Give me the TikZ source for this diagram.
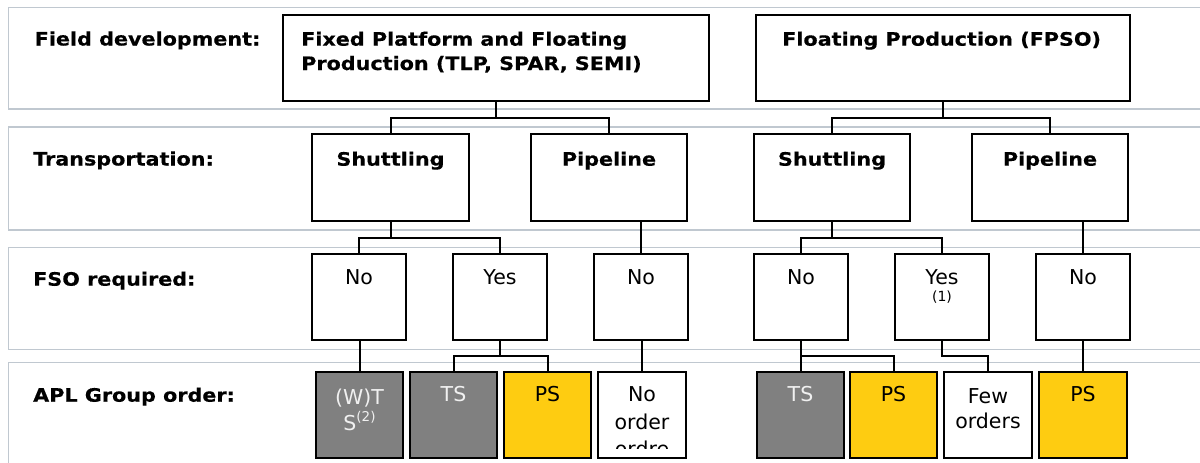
\documentclass[tikz,border=0pt]{standalone}
\usepackage{fontspec}
\setmainfont{DejaVu Sans}
\newfontfamily\labfont[FakeStretch=1.12,BoldFeatures={FakeBold=0.5}]{DejaVu Sans}
\definecolor{bandgray}{RGB}{192,200,208}
\definecolor{boxgray}{RGB}{128,128,128}
\definecolor{apyellow}{RGB}{254,204,17}
\definecolor{txtwhite}{RGB}{240,240,240}
\begin{document}
\begin{tikzpicture}[x=1pt,y=-1pt,
  band/.style={draw=bandgray,line width=1.5pt},
  box/.style={draw=black,line width=2pt,inner sep=0pt,outer sep=0pt,rectangle,anchor=north west},
  conn/.style={draw=black,line width=2pt},
  lab/.style={font=\labfont\bfseries\fontsize{18.5}{22}\selectfont,inner sep=0pt,anchor=base west},
  btxt/.style={font=\labfont\bfseries\fontsize{18.5}{22}\selectfont,inner sep=0pt,anchor=base},
  ntxt/.style={font=\fontsize{20.5}{24}\selectfont,inner sep=0pt,anchor=base},
  gbox/.style={box,fill=boxgray},
  ybox/.style={box,fill=apyellow},
  wbox/.style={box,fill=white},
]
\useasboundingbox (0,0) rectangle (1200,463);
\fill[white] (0,0) rectangle (1200,463);
% bands
\draw[band] (8.5,7.5) rectangle (1215,109);
\draw[band] (8.5,127) rectangle (1215,230);
\draw[band] (8.5,247.3) rectangle (1215,349.5);
\draw[band] (8.5,362.7) rectangle (1215,480);
% row labels
\node[lab] (l1) at (34.5,45.5) {Field development:};
\node[lab] (l2) at (33,165.5) {Transportation:};
\node[lab] (l3) at (33,285.7) {FSO required:};
\node[lab] (l4) at (33,401.7) {APL Group order:};
% row 1
\node[box,minimum width=426pt,minimum height=86pt] (A) at (283,15) {};
\node[box,minimum width=374pt,minimum height=86pt] (B) at (756,15) {};
\node[lab] (At1) at (301,45.7) {Fixed Platform and Floating};
\node[lab] (At2) at (301,70) {Production (TLP, SPAR, SEMI)};
\node[lab] (Bt1) at (782,45.7) {Floating Production (FPSO)};
% row 2
\node[box,minimum width=157pt,minimum height=87pt] (S1) at (312,134) {};
\node[box,minimum width=156pt,minimum height=87pt] (P1) at (531,134) {};
\node[box,minimum width=156pt,minimum height=87pt] (S2) at (754,134) {};
\node[box,minimum width=156pt,minimum height=87pt] (P2) at (972,134) {};
\node[btxt] at ([yshift=-31.7pt]S1.north) {Shuttling};
\node[btxt] at ([yshift=-31.7pt]P1.north) {Pipeline};
\node[btxt] at ([yshift=-31.7pt]S2.north) {Shuttling};
\node[btxt] at ([yshift=-31.7pt]P2.north) {Pipeline};
% row 3
\node[box,minimum width=94pt,minimum height=86pt] (N1) at (312,254) {};
\node[box,minimum width=94pt,minimum height=86pt] (Y1) at (453,254) {};
\node[box,minimum width=94pt,minimum height=86pt] (N2) at (594,254) {};
\node[box,minimum width=94pt,minimum height=86pt] (N3) at (754,254) {};
\node[box,minimum width=94pt,minimum height=86pt] (Y2) at (895,254) {};
\node[box,minimum width=94pt,minimum height=86pt] (N4) at (1036,254) {};
\node[ntxt] at ([yshift=-30pt]N1.north) {No};
\node[ntxt] at ([yshift=-30pt]Y1.north) {Yes};
\node[ntxt] at ([yshift=-30pt]N2.north) {No};
\node[ntxt] at ([yshift=-30pt]N3.north) {No};
\node[ntxt] at ([yshift=-30pt]Y2.north) {Yes};
\node[ntxt,font=\fontsize{14}{16}\selectfont] at ([yshift=-47pt]Y2.north) {(1)};
\node[ntxt] at ([yshift=-30pt]N4.north) {No};
% row 4
\node[gbox,minimum width=87pt,minimum height=86pt] (B1) at (316,372) {};
\node[gbox,minimum width=87pt,minimum height=86pt] (B2) at (410,372) {};
\node[ybox,minimum width=87pt,minimum height=86pt] (B3) at (504,372) {};
\node[wbox,minimum width=88pt,minimum height=86pt] (B4) at (598,372) {};
\node[gbox,minimum width=87pt,minimum height=86pt] (B5) at (757,372) {};
\node[ybox,minimum width=87pt,minimum height=86pt] (B6) at (850,372) {};
\node[wbox,minimum width=88pt,minimum height=86pt] (B7) at (944,372) {};
\node[ybox,minimum width=88pt,minimum height=86pt] (B8) at (1039,372) {};
\node[ntxt,text=txtwhite] at ([yshift=-32pt]B1.north) {(W)T};
\node[ntxt,text=txtwhite] at ([yshift=-58pt]B1.north) {S\raisebox{8.5pt}{\fontsize{13.5}{15}\selectfont(2)}};
\node[ntxt,text=txtwhite] at ([yshift=-29.7pt]B2.north) {TS};
\node[ntxt] at ([yshift=-29.7pt]B3.north) {PS};
\begin{scope}
  \clip (598,372) rectangle (686,448.3);
  \node[ntxt] at ([yshift=-29.7pt]B4.north) {No};
  \node[ntxt] at ([yshift=-57.3pt]B4.north) {order};
  \node[ntxt] at ([yshift=-84.9pt]B4.north) {ordre};
\end{scope}
\node[ntxt,text=txtwhite] at ([yshift=-29.7pt]B5.north) {TS};
\node[ntxt] at ([yshift=-29.7pt]B6.north) {PS};
\node[ntxt] at ([yshift=-31.3pt]B7.north) {Few};
\node[ntxt] at ([yshift=-56.3pt]B7.north) {orders};
\node[ntxt] at ([yshift=-29.7pt]B8.north) {PS};
% connectors
\coordinate (bus1) at (0,117.7);
\coordinate (bus2) at (0,237.7);
\coordinate (bus3) at (0,356);
\draw[conn] (A.south) -- (A.south |- bus1) -| (S1.north);
\draw[conn] (A.south |- bus1) -| (P1.north);
\draw[conn] (B.south) -- (B.south |- bus1) -| (S2.north);
\draw[conn] (B.south |- bus1) -| (P2.north);
\draw[conn] (S1.south) -- (S1.south |- bus2) -| (N1.north);
\draw[conn] (S1.south |- bus2) -| (Y1.north);
\draw[conn] (N2.north |- P1.south) -- (N2.north);
\draw[conn] (S2.south) -- (S2.south |- bus2) -| (N3.north);
\draw[conn] (S2.south |- bus2) -| (Y2.north);
\draw[conn] (N4.north |- P2.south) -- (N4.north);
\draw[conn] (B1.north |- N1.south) -- (B1.north);
\draw[conn] (Y1.south) -- (Y1.south |- bus3) -| (B2.north);
\draw[conn] (Y1.south |- bus3) -| (B3.north);
\draw[conn] (B4.north |- N2.south) -- (B4.north);
\draw[conn] (B5.north |- N3.south) -- (B5.north);
\draw[conn] (B5.north |- bus3) -| (B6.north);
\draw[conn] (Y2.south) -- (Y2.south |- bus3) -| (B7.north);
\draw[conn] (B8.north |- N4.south) -- (B8.north);
\end{tikzpicture}
\end{document}
